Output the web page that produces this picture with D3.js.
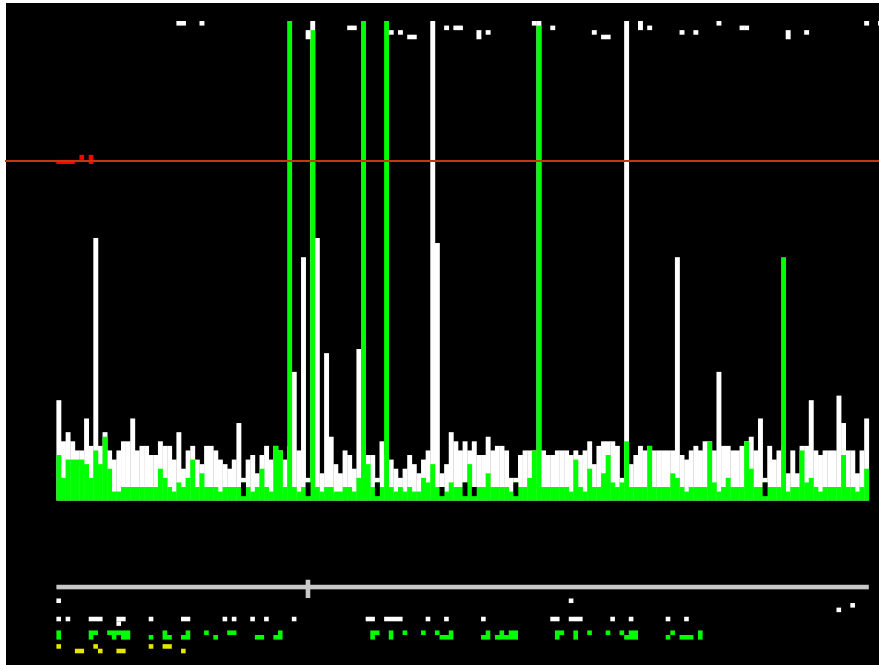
<html>
<head>
<title>Column bars with overview strip</title>
<style>
    body { margin: 0; background: white; }
    svg { display: block; }
</style>
<script src="https://cdn.jsdelivr.net/npm/d3@7"></script>
</head>
<body>
<div id="chart"></div>
<script>
    // one value per column, in level units (0 = baseline, 105 = top of plot)
    var whiteVals = [
        22, 13, 15, 13, 11, 11, 18, 12, 57.5, 12,
        15, 11, 9, 11, 13, 13, 18, 11, 12, 12,
        10, 10, 13, 12, 12, 9, 15, 7, 11, 12,
        9, 8, 12, 12, 11, 9, 8, 7, 9, 17,
        5, 9, 10, 6, 10, 12, 9, 12, 11, 9,
        12, 28.2, 11, 53.3, 5, 110, 57.5, 6, 32.3, 14,
        8, 6, 11, 10, 7, 33.2, 12, 10, 10, 5,
        13, 10, 9, 7, 5, 7, 10, 8, 6, 9,
        11, 110, 56.4, 6, 8, 15, 13, 11, 13, 11,
        13, 10, 10, 14, 11, 12, 12, 11, 5, 5,
        10, 11, 11, 11, 110, 11, 10, 10, 11, 11,
        11, 10, 11, 10, 11, 13, 8, 12, 13, 13,
        13, 12, 5, 110, 8, 10, 12, 11, 12, 11,
        11, 11, 11, 11, 53.3, 10, 9, 11, 12, 11,
        13, 13, 11, 28.2, 12, 12, 11, 11, 12, 13,
        14, 11, 18, 5, 12, 9, 11, 12, 6, 11,
        6, 12, 12, 22, 11, 10, 11, 11, 11, 23,
        17, 11, 11, 6, 11, 18
    ];
    var greenVals = [
        10, 5, 9, 9, 9, 9, 8, 5, 11, 8,
        14, 7, 2, 2, 3, 3, 3, 3, 3, 3,
        3, 3, 7, 5, 3, 2, 4, 3, 5, 9,
        3, 6, 3, 3, 3, 2, 3, 3, 3, 3,
        4, 3, 2, 3, 7, 3, 2, 12, 11, 3,
        110, 3, 2, 3, 4, 103, 3, 2, 3, 3,
        2, 2, 3, 3, 2, 5, 110, 8, 3, 4,
        3, 110, 3, 2, 3, 2, 3, 2, 2, 5,
        4, 8, 3, 3, 2, 4, 3, 3, 4, 8,
        3, 3, 3, 6, 3, 3, 3, 3, 2, 4,
        3, 3, 5, 11, 104, 3, 3, 3, 3, 3,
        3, 2, 9, 3, 2, 7, 3, 3, 6, 10,
        4, 3, 4, 13, 3, 3, 3, 3, 12, 3,
        3, 3, 3, 6, 5, 3, 2, 3, 3, 3,
        3, 13, 4, 2, 3, 5, 3, 3, 3, 13,
        7, 3, 3, 4, 3, 3, 3, 53.3, 2, 3,
        3, 11, 4, 5, 3, 2, 3, 3, 3, 3,
        10, 3, 3, 2, 3, 7
    ];
    // [column, from, to]
    var blackSegs = [[40, 1, 4], [54, 1, 4], [69, 1, 4], [83, 1, 3], [88, 1, 4], [90, 1, 3], [99, 1, 4], [153, 1, 4]];
    var topBits = [
        [26, 104, 105], [27, 104, 105], [31, 104, 105], [54, 101, 103], [63, 103, 104], [64, 103, 104],
        [72, 102, 103], [74, 102, 103], [76, 101, 102], [77, 101, 102], [84, 103, 104], [86, 103, 104],
        [87, 103, 104], [91, 101, 103], [93, 102, 103], [103, 104, 105], [107, 103, 104], [116, 102, 103],
        [118, 101, 102], [119, 101, 102], [126, 103, 105], [128, 103, 104], [135, 102, 103], [138, 102, 103],
        [143, 104, 105], [148, 103, 104], [149, 103, 104], [158, 101, 103], [162, 102, 103], [175, 104, 105],
        [178, 104, 105]
    ];
    // [first column, end column, from, to]
    var redBits = [[0, 4, 73.7, 74.6], [5, 6, 74.6, 75.7], [7, 8, 73.7, 75.7]];
    var refLevel = 74.35;

    // overview strip under the plot: [first column, end column, row]
    var sliderRange = [0, 176];
    var sliderHandle = 54;
    var footDots = [[0, 1, 0], [111, 112, 0], [172, 173, 1], [169, 170, 2]];
    var footWhite = [
        [0, 1, 4], [2, 3, 4], [7, 10, 4], [13, 15, 4], [13, 14, 5], [20, 21, 4], [27, 29, 4], [36, 37, 4],
        [38, 39, 4], [42, 43, 4], [45, 46, 4], [51, 52, 4], [67, 69, 4], [71, 75, 4], [80, 81, 4], [84, 85, 4],
        [92, 93, 4], [107, 109, 4], [111, 114, 4], [120, 121, 4], [124, 125, 4], [132, 133, 4], [136, 137, 4]
    ];
    var footGreen = [
        [0, 1, 7], [0, 1, 8], [7, 9, 7], [7, 8, 8], [11, 16, 7], [12, 13, 8], [14, 16, 8], [20, 21, 8],
        [23, 24, 7], [23, 25, 8], [28, 29, 7], [27, 29, 8], [32, 33, 7], [34, 35, 8], [37, 39, 7], [43, 45, 8],
        [48, 49, 7], [47, 49, 8], [68, 70, 7], [68, 69, 8], [72, 73, 7], [72, 73, 8], [75, 76, 7], [79, 80, 7],
        [82, 83, 7], [85, 86, 7], [83, 86, 8], [93, 94, 7], [92, 94, 8], [96, 97, 7], [98, 100, 7], [95, 100, 8],
        [108, 110, 7], [108, 109, 8], [112, 113, 7], [112, 113, 8], [115, 116, 7], [119, 120, 7],
        [122, 123, 7], [124, 126, 7], [123, 126, 8], [133, 134, 7], [132, 133, 8], [135, 138, 8],
        [139, 140, 7], [139, 140, 8]
    ];
    var footYellow = [[0, 1, 10], [4, 6, 11], [8, 9, 10], [9, 10, 11], [13, 15, 11], [20, 21, 10], [23, 25, 10], [27, 28, 11]];

    var svg = d3.select('#chart')
            .append('svg')
            .attr('width', 879)
            .attr('height', 665);

    svg.append('rect')
            .attr('x', 6)
            .attr('y', 3)
            .attr('width', 873)
            .attr('height', 662)
            .attr('fill', 'black');

    var x = d3.scaleLinear().domain([0, 176]).range([56.4, 868.8]);
    var y = d3.scaleLinear().domain([0, 105]).range([500.7, 21]);
    var bw = x(1) - x(0) + 0.3;

    svg.append('clipPath')
            .attr('id', 'plot')
        .append('rect')
            .attr('x', 0)
            .attr('y', y(105))
            .attr('width', 879)
            .attr('height', y(0) - y(105));

    var plot = svg.append('g').attr('clip-path', 'url(#plot)');

    function columns(vals, color) {
        plot.append('g').selectAll('rect')
            .data(vals)
            .enter().append('rect')
                .attr('x', function(d, i) { return x(i); })
                .attr('width', bw)
                .attr('y', function(d) { return y(d); })
                .attr('height', function(d) { return y(0) - y(d); })
                .attr('fill', color);
    }
    columns(whiteVals, 'white');
    columns(greenVals, '#00ff00');

    plot.append('g').selectAll('rect')
        .data(blackSegs)
        .enter().append('rect')
            .attr('x', function(d) { return x(d[0]); })
            .attr('width', bw)
            .attr('y', function(d) { return y(d[2]); })
            .attr('height', function(d) { return y(d[1]) - y(d[2]); })
            .attr('fill', 'black');

    svg.append('g').selectAll('rect')
        .data(topBits)
        .enter().append('rect')
            .attr('x', function(d) { return x(d[0]); })
            .attr('width', bw)
            .attr('y', function(d) { return y(d[2]); })
            .attr('height', function(d) { return y(d[1]) - y(d[2]); })
            .attr('fill', 'white');

    svg.append('g').selectAll('rect')
        .data(redBits)
        .enter().append('rect')
            .attr('x', function(d) { return x(d[0]); })
            .attr('width', function(d) { return x(d[1]) - x(d[0]); })
            .attr('y', function(d) { return y(d[3]); })
            .attr('height', function(d) { return y(d[2]) - y(d[3]); })
            .attr('fill', '#ff0000');

    svg.append('line')
            .attr('x1', 5)
            .attr('x2', 879)
            .attr('y1', y(refLevel))
            .attr('y2', y(refLevel))
            .attr('stroke', '#c4380c')
            .attr('stroke-width', 2);

    // overview strip: row r sits below the baseline
    function rowTop(r) { return y(-21.4 - r); }
    function rowBottom(r) { return y(-22.4 - r); }

    svg.append('rect')
            .attr('x', x(sliderRange[0]))
            .attr('width', x(sliderRange[1]) - x(sliderRange[0]))
            .attr('y', rowTop(-3))
            .attr('height', rowBottom(-3) - rowTop(-3))
            .attr('fill', '#c8c8c8');
    svg.append('rect')
            .attr('x', x(sliderHandle))
            .attr('width', x(sliderHandle + 1) - x(sliderHandle))
            .attr('y', rowTop(-4.1))
            .attr('height', rowBottom(-1.1) - rowTop(-4.1))
            .attr('fill', '#c8c8c8');

    function blocks(list, color) {
        svg.append('g').selectAll('rect')
            .data(list)
            .enter().append('rect')
                .attr('x', function(d) { return x(d[0]); })
                .attr('width', function(d) { return x(d[1]) - x(d[0]); })
                .attr('y', function(d) { return rowTop(d[2]); })
                .attr('height', function(d) { return rowBottom(d[2]) - rowTop(d[2]); })
                .attr('fill', color);
    }
    blocks(footDots, 'white');
    blocks(footWhite, 'white');
    blocks(footGreen, '#00ff00');
    blocks(footYellow, '#e6e600');
</script>
</body>
</html>
